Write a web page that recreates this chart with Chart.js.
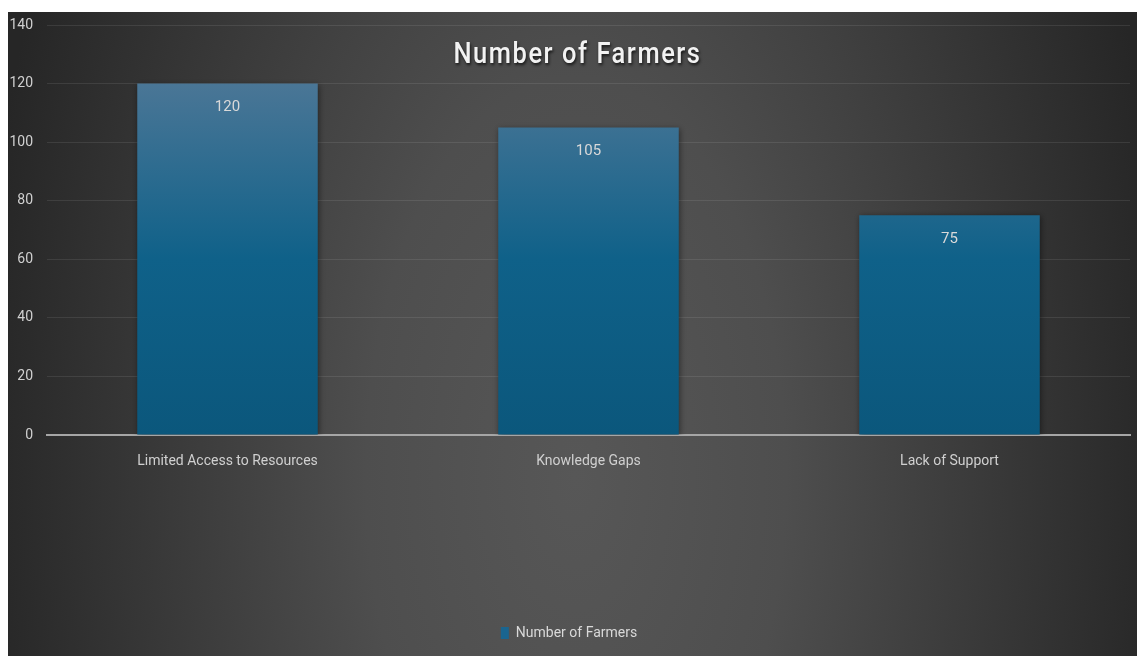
<!DOCTYPE html>
<html>
<head>
<meta charset="utf-8">
<script src="https://cdn.jsdelivr.net/npm/chart.js@4.4.1/dist/chart.umd.min.js"></script>
<style>
  html, body { margin: 0; padding: 0; background: #ffffff; }
  #wrap { position: absolute; left: 8px; top: 12px; width: 1129px; height: 644px; }
</style>
</head>
<body>
<div id="wrap"><canvas id="c"></canvas></div>
<script>
const categories = ['Limited Access to Resources', 'Knowledge Gaps', 'Lack of Support'];
const farmers = [120, 105, 75];
const seriesName = 'Number of Farmers';
const chartTitle = 'Number of Farmers';
const yTicks = [0, 20, 40, 60, 80, 100, 120, 140];

const FONT = '"Liberation Sans Narrow", "Roboto", sans-serif';

const bgPlugin = {
  id: 'bg',
  beforeDraw(chart) {
    const { ctx, width, height } = chart;
    ctx.save();
    const cx = width * 0.503, cy = height * 0.72;
    ctx.translate(cx, cy);
    ctx.scale(1, 1.9);
    const g = ctx.createRadialGradient(0, 0, 0, 0, 0, 600);
    g.addColorStop(0, '#575757');
    g.addColorStop(0.35, '#4e4e4e');
    g.addColorStop(1, '#262626');
    ctx.fillStyle = g;
    ctx.fillRect(-cx, -cy / 1.9, width, height / 1.9 + 10);
    ctx.restore();
  }
};

const shadowPlugin = {
  id: 'barShadow',
  beforeDatasetsDraw(chart) {
    const ctx = chart.ctx;
    ctx.save();
    ctx.shadowColor = 'rgba(0,0,0,0.45)';
    ctx.shadowBlur = 6;
    ctx.shadowOffsetX = 1;
    ctx.shadowOffsetY = 1;
  },
  afterDatasetsDraw(chart) {
    chart.ctx.restore();
  }
};

const labelPlugin = {
  id: 'labels',
  afterDraw(chart) {
    const ctx = chart.ctx;
    ctx.save();
    const meta = chart.getDatasetMeta(0);
    ctx.fillStyle = '#d9d9d9';
    ctx.font = '15px ' + FONT;
    ctx.textAlign = 'center';
    ctx.textBaseline = 'middle';
    meta.data.forEach((bar, i) => {
      ctx.fillText(String(farmers[i]), bar.x, bar.y + 24);
    });
    ctx.restore();
    ctx.save();
    const ca = chart.chartArea;
    const tx = (ca.left + ca.right) / 2 - 11;
    ctx.translate(tx, 43);
    ctx.scale(0.85, 1);
    ctx.font = '500 30px "Roboto", sans-serif';
    if ('letterSpacing' in ctx) ctx.letterSpacing = '1.8px';
    ctx.textAlign = 'center';
    ctx.textBaseline = 'middle';
    ctx.shadowColor = 'rgba(0,0,0,0.7)';
    ctx.shadowBlur = 3;
    ctx.shadowOffsetX = 1;
    ctx.shadowOffsetY = 2;
    ctx.fillStyle = '#f2f2f2';
    ctx.fillText(chartTitle, 0, 0);
    ctx.restore();
  }
};

new Chart(document.getElementById('c'), {
  type: 'bar',
  data: {
    labels: categories,
    datasets: [{
      label: seriesName,
      data: farmers,
      backgroundColor(ctx) {
        const chart = ctx.chart;
        const ca = chart.chartArea;
        if (!ca) return '#0f5f86';
        const y = chart.scales.y;
        const g = chart.ctx.createLinearGradient(0, y.getPixelForValue(120), 0, y.getPixelForValue(0));
        g.addColorStop(0, '#4a7696');
        g.addColorStop(0.5, '#0f6189');
        g.addColorStop(1, '#0b577c');
        return g;
      },
      borderWidth: 0,
      categoryPercentage: 0.5,
      barPercentage: 1.0
    }]
  },
  options: {
    responsive: true,
    maintainAspectRatio: false,
    animation: false,
    layout: { padding: { top: 13, right: 7, left: 0, bottom: 6 } },
    plugins: {
      legend: {
        display: true,
        position: 'bottom',
        labels: {
          color: '#d9d9d9',
          font: { family: FONT, size: 14 },
          boxWidth: 8,
          boxHeight: 12,
          padding: 4,
          generateLabels(chart) {
            return [{ text: seriesName, fillStyle: '#1a6590', strokeStyle: 'transparent', lineWidth: 0, datasetIndex: 0, fontColor: '#d9d9d9' }];
          }
        }
      },
      tooltip: { enabled: false },
      title: { display: false }
    },
    scales: {
      x: {
        grid: { display: false, drawTicks: false },
        border: { display: true, color: '#a6a6a6', width: 2 },
        ticks: { color: '#d0d0d0', font: { family: FONT, size: 14 }, padding: 18, maxRotation: 0 },
        afterFit(scale) { scale.height = 187; }
      },
      y: {
        min: 0,
        max: 140,
        afterBuildTicks(scale) { scale.ticks = yTicks.map(v => ({ value: v })); },
        grid: { color: 'rgba(255,255,255,0.09)', lineWidth: 1, drawTicks: false },
        border: { display: false },
        ticks: { color: '#d0d0d0', font: { family: FONT, size: 14 }, padding: 14 },
        afterFit(scale) { scale.width = 39; scale.paddingTop = 0; scale.paddingBottom = 0; }
      }
    }
  },
  plugins: [bgPlugin, shadowPlugin, labelPlugin]
});
</script>
</body>
</html>
